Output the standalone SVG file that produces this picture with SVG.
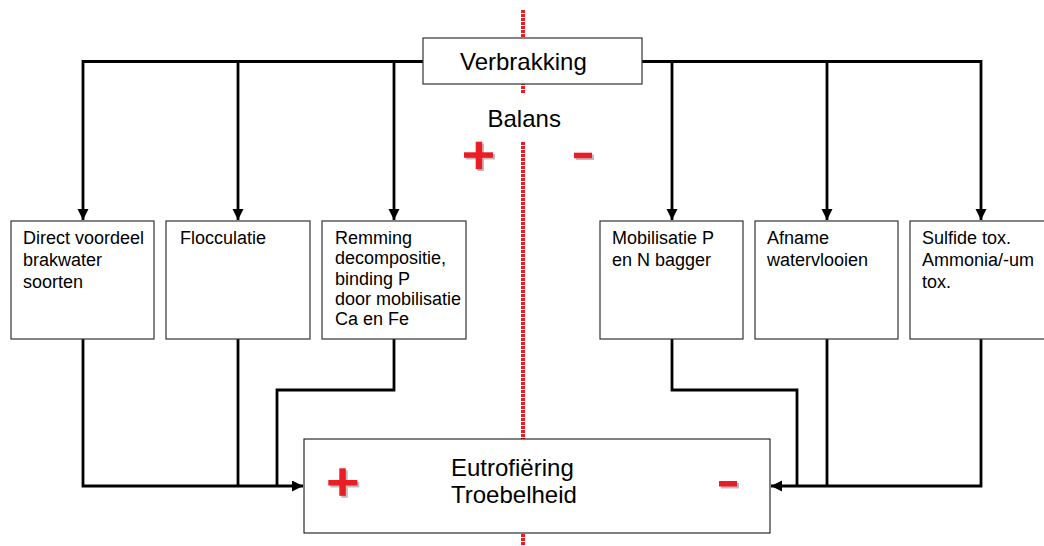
<svg xmlns="http://www.w3.org/2000/svg" width="1044" height="546" viewBox="0 0 1044 546">
<defs>
<style>
.box{fill:#fff;stroke:#333;stroke-width:1.2}
.t{font-family:"Liberation Sans",Arial,sans-serif;fill:#000}
.s{font-size:18px}
.l{font-size:24px}
.c{fill:none;stroke:#000;stroke-width:2.8}
.red{fill:#ec1c24}
.sh{fill:#bdbdbd}
.div{fill:none;stroke:#ec1c24;stroke-width:4;stroke-dasharray:3 1}
</style>
<marker id="ah" markerUnits="userSpaceOnUse" markerWidth="12" markerHeight="12" refX="11" refY="5.5" orient="auto">
<path d="M0,0 L11,5.5 L0,11 z" fill="#000"/>
</marker>
</defs>
<rect width="1044" height="546" fill="#fff"/>
<path class="div" d="M523,10 V93 M523,142 V546"/>
<g id="connectors">
<path class="c" d="M423,61.5 H83 V220" marker-end="url(#ah)"/>
<path class="c" d="M238,61.5 V220" marker-end="url(#ah)"/>
<path class="c" d="M394,61.5 V220" marker-end="url(#ah)"/>
<path class="c" d="M642,61.5 H981 V220" marker-end="url(#ah)"/>
<path class="c" d="M672,61.5 V220" marker-end="url(#ah)"/>
<path class="c" d="M827,61.5 V220" marker-end="url(#ah)"/>
<path class="c" d="M83,339 V486 H303" marker-end="url(#ah)"/>
<path class="c" d="M238,339 V486"/>
<path class="c" d="M394,339 V390 H277 V486"/>
<path class="c" d="M981,339 V486 H771" marker-end="url(#ah)"/>
<path class="c" d="M827,339 V486"/>
<path class="c" d="M672,339 V390 H797 V486"/>
</g>
<g id="verbrakking">
<rect class="box" x="423" y="38" width="219" height="46"/>
<text class="t l" x="460" y="70">Verbrakking</text>
</g>
<g id="balans">
<text class="t l" x="487.5" y="127">Balans</text>
<rect class="sh" x="466" y="154" width="29" height="5.5"/>
<rect class="sh" x="477.5" y="143.5" width="6.5" height="27.5"/>
<rect class="red" x="464" y="152.3" width="29" height="5.5"/>
<rect class="red" x="475.7" y="141.7" width="6.5" height="27.5"/>
<rect class="sh" x="576" y="154.5" width="18" height="5.5"/>
<rect class="red" x="574" y="152.7" width="18" height="5.5"/>
</g>
<g id="n1">
<rect class="box" x="11" y="221" width="143" height="118"/>
<text class="t s"><tspan x="23" y="244">Direct voordeel</tspan><tspan x="23" y="266">brakwater</tspan><tspan x="23" y="288">soorten</tspan></text>
</g>
<g id="n2">
<rect class="box" x="166" y="221" width="144" height="118"/>
<text class="t s" x="180" y="244">Flocculatie</text>
</g>
<g id="n3">
<rect class="box" x="322" y="221" width="144" height="118"/>
<text class="t s"><tspan x="335" y="244">Remming</tspan><tspan x="335" y="264.3">decompositie,</tspan><tspan x="335" y="284.6">binding P</tspan><tspan x="335" y="304.9">door mobilisatie</tspan><tspan x="335" y="325.2">Ca en Fe</tspan></text>
</g>
<g id="n4">
<rect class="box" x="600" y="221" width="143" height="118"/>
<text class="t s"><tspan x="612" y="244">Mobilisatie P</tspan><tspan x="612" y="266">en N bagger</tspan></text>
</g>
<g id="n5">
<rect class="box" x="755" y="221" width="143" height="118"/>
<text class="t s"><tspan x="767" y="244">Afname</tspan><tspan x="767" y="266">watervlooien</tspan></text>
</g>
<g id="n6">
<rect class="box" x="910" y="221" width="143" height="118"/>
<text class="t s"><tspan x="922" y="244">Sulfide tox.</tspan><tspan x="922" y="266">Ammonia/-um</tspan><tspan x="922" y="288">tox.</tspan></text>
</g>
<g id="eutrofiering">
<rect class="box" x="304" y="439" width="466" height="94" style="stroke:#000;stroke-width:1"/>
<text class="t l"><tspan x="451" y="476">Eutrofiëring</tspan><tspan x="451" y="503">Troebelheid</tspan></text>
<rect class="sh" x="330.3" y="482" width="29" height="5.5"/>
<rect class="sh" x="341.3" y="470.3" width="6.5" height="27.5"/>
<rect class="red" x="328.3" y="480" width="29" height="5.5"/>
<rect class="red" x="339.3" y="468.3" width="6.5" height="27.5"/>
<rect class="sh" x="721" y="483" width="18" height="5.5"/>
<rect class="red" x="719" y="481" width="18" height="5.5"/>
</g>
</svg>
